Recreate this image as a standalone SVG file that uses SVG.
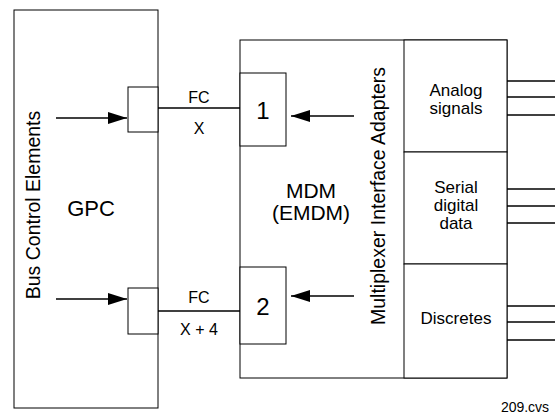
<svg xmlns="http://www.w3.org/2000/svg" width="555" height="414" viewBox="0 0 555 414">
<defs>
<marker id="ah" markerWidth="19" markerHeight="12" refX="19" refY="6" orient="auto" markerUnits="userSpaceOnUse">
<path d="M0,0 L19,6 L0,12 Z" fill="#000"/>
</marker>
</defs>
<style>
.b{fill:#fff;stroke:#000;stroke-width:1}
.l{stroke:#000;stroke-width:1.4;fill:none}
.t{font-family:"Liberation Sans",Arial,sans-serif;fill:#000;text-anchor:middle}
</style>
<rect width="555" height="414" fill="#fff"/>
<g id="gpc">
<rect class="b" x="14" y="10" width="144" height="398"/>
<text class="t" x="35" y="205" font-size="19.5" transform="rotate(-90 35 205)" dominant-baseline="middle">Bus Control Elements</text>
<text class="t" x="91" y="216" font-size="22">GPC</text>
</g>
<g id="port1"><rect class="b" x="128" y="87" width="30" height="45"/></g>
<g id="port2"><rect class="b" x="128" y="288" width="30" height="46"/></g>
<g id="mdm">
<rect class="b" x="240" y="40" width="267" height="338"/>
<text class="t" x="311" y="198" font-size="21">MDM</text>
<text class="t" x="311" y="220" font-size="21">(EMDM)</text>
<text class="t" x="380" y="196" font-size="19.5" transform="rotate(-90 380 196)" dominant-baseline="middle">Multiplexer Interface Adapters</text>
</g>
<g id="fc1"><rect class="b" x="240" y="73" width="46" height="73"/><text class="t" x="263" y="119" font-size="24">1</text></g>
<g id="fc2"><rect class="b" x="240" y="267" width="46" height="77"/><text class="t" x="263" y="315" font-size="24">2</text></g>
<g id="analog"><rect class="b" x="404" y="40" width="103" height="112"/><text class="t" x="456" y="96" font-size="17">Analog</text><text class="t" x="456" y="114" font-size="17">signals</text></g>
<g id="serial"><rect class="b" x="404" y="152" width="103" height="112"/><text class="t" x="456" y="193" font-size="17">Serial</text><text class="t" x="456" y="211" font-size="17">digital</text><text class="t" x="456" y="229" font-size="17">data</text></g>
<g id="discretes"><rect class="b" x="404" y="264" width="103" height="114"/><text class="t" x="456" y="324" font-size="17">Discretes</text></g>
<g id="connectors">
<line class="l" x1="56" y1="118" x2="127" y2="118" marker-end="url(#ah)"/>
<line class="l" x1="56" y1="299" x2="127" y2="299" marker-end="url(#ah)"/>
<line class="l" x1="354" y1="116" x2="291" y2="116" marker-end="url(#ah)"/>
<line class="l" x1="354" y1="296" x2="291" y2="296" marker-end="url(#ah)"/>
<line class="l" x1="158" y1="108" x2="240" y2="108"/>
<line class="l" x1="158" y1="311" x2="240" y2="311"/>
<line class="l" x1="507" y1="81" x2="555" y2="81"/>
<line class="l" x1="507" y1="97" x2="555" y2="97"/>
<line class="l" x1="507" y1="115" x2="555" y2="115"/>
<line class="l" x1="507" y1="189" x2="555" y2="189"/>
<line class="l" x1="507" y1="206" x2="555" y2="206"/>
<line class="l" x1="507" y1="223" x2="555" y2="223"/>
<line class="l" x1="507" y1="306" x2="555" y2="306"/>
<line class="l" x1="507" y1="322" x2="555" y2="322"/>
<line class="l" x1="507" y1="340" x2="555" y2="340"/>
<text class="t" x="199" y="103" font-size="16">FC</text>
<text class="t" x="199" y="134" font-size="16">X</text>
<text class="t" x="199" y="303" font-size="16">FC</text>
<text class="t" x="199" y="335" font-size="16">X + 4</text>
</g>
<text class="t" x="525" y="412" font-size="14">209.cvs</text>
</svg>
